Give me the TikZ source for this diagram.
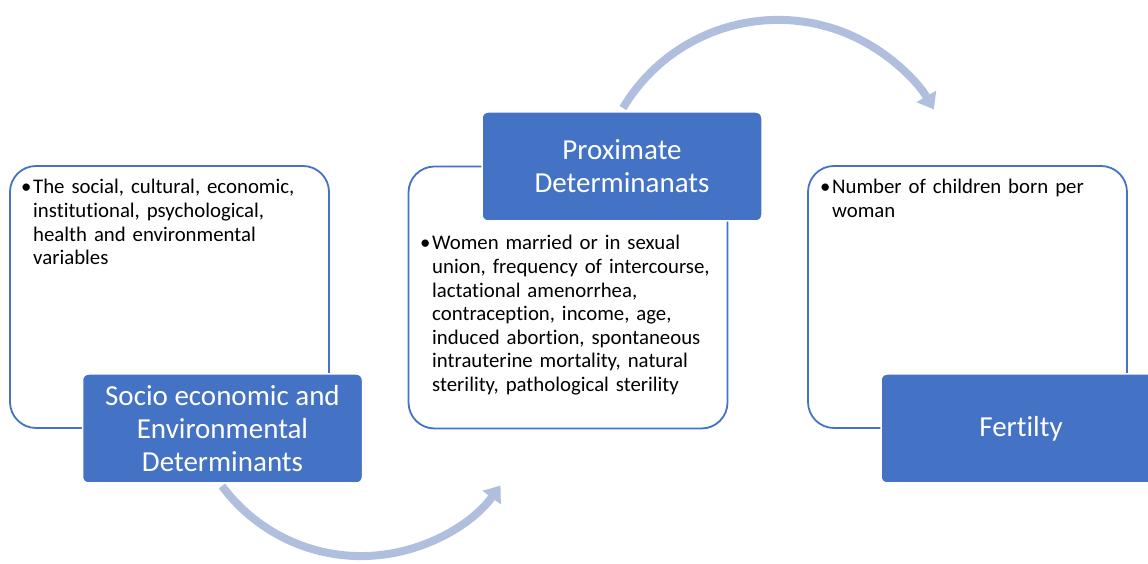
\documentclass[tikz,border=0pt]{standalone}
\usepackage{fontspec}
\setmainfont{Carlito}[Ligatures=NoCommon]
\usetikzlibrary{arrows.meta}
\definecolor{boxblue}{HTML}{4472C4}
\definecolor{arrowblue}{HTML}{B1BFDF}
\tikzset{
  whitebox/.style={rectangle, draw=boxblue, line width=1.8pt, fill=white, rounded corners=26pt,
    inner sep=0pt, minimum width=319pt, minimum height=262pt},
  bluebox/.style={rectangle, draw=white, line width=1.5pt, fill=boxblue, rounded corners=6pt,
    inner sep=0pt, minimum width=280pt, minimum height=109pt, text=white, align=center,
    font={\fontsize{29}{33}\selectfont}},
  bodytext/.style={anchor=base west, inner sep=0pt, text width=300pt, align=left,
    font={\fontsize{20.8}{23.6}\selectfont}},
  bulletmark/.style={anchor=base west, inner sep=0pt, font={\fontsize{20.8}{23.6}\selectfont}},
  flowarrow/.style={draw=arrowblue, line width=8pt, -{Triangle[width=22pt,length=15pt]}}
}
\begin{document}
\begin{tikzpicture}[x=1pt,y=1pt]
\useasboundingbox (0,0) rectangle (1148,564);
\clip (0,0) rectangle (1148,564);
% arrows
\coordinate (a1s) at (222,78);
\coordinate (a2s) at (623,456);
\draw[flowarrow] (a1s) arc[start angle=216.5, end angle=323.7, radius=173];
\draw[flowarrow] (a2s) arc[start angle=149.2, end angle=30.3, radius=180.5];
% white boxes
\node[whitebox] (w1) at (169.5,267) {};
\node[whitebox] (w2) at (568,266.5) {};
\node[whitebox] (w3) at (967.5,267) {};
% texts
\node[bulletmark] (d1) at (21,370) {\textbullet};
\node[bodytext] (t1) at (33,370) {The social, cultural, economic,\\institutional, psychological,\\health and environmental\\variables};
\node[bulletmark] (d2) at (420,314) {\textbullet};
\node[bodytext] (t2) at (432,314) {Women married or in sexual\\union, frequency of intercourse,\\lactational amenorrhea,\\contraception, income, age,\\induced abortion, spontaneous\\intrauterine mortality, natural\\sterility, pathological sterility};
\node[bulletmark] (d3) at (820,370) {\textbullet};
\node[bodytext] (t3) at (832,370) {Number of children born per\\woman};
% blue boxes
\node[bluebox] (b1) at (222.5,135.5) {Socio economic and\\Environmental\\Determinants};
\node[bluebox] (b2) at (622,397.5) {Proximate\\Determinanats};
\node[bluebox] (b3) at (1021,135.5) {Fertilty};
\end{tikzpicture}
\end{document}
